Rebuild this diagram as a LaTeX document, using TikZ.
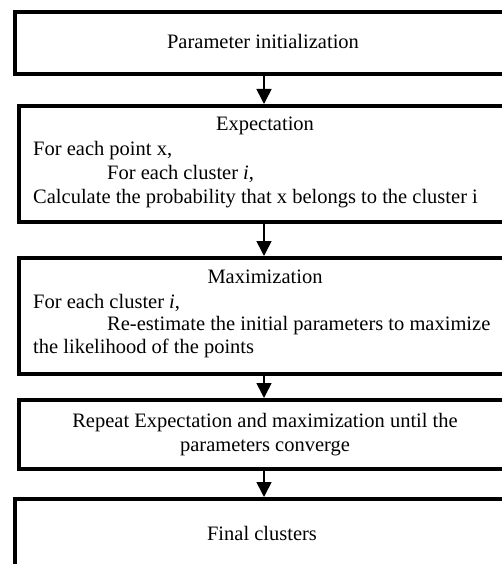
\documentclass[tikz,border=0pt]{standalone}
\usepackage{fontspec}
\setmainfont{Liberation Serif}
\usetikzlibrary{arrows.meta}
\begin{document}
\begin{tikzpicture}[x=1pt,y=-1pt,
  box/.style={draw, line width=4pt, fill=white, anchor=north west, inner sep=0pt},
  txtl/.style={anchor=base west, font=\fontsize{20.5}{24}\selectfont, inner sep=0pt},
  txtc/.style={anchor=base, font=\fontsize{20.5}{24}\selectfont, inner sep=0pt},
  arr/.style={line width=1.6pt, -{Triangle[length=15pt,width=15pt]}}]
\useasboundingbox (0,0) rectangle (502,564);
\clip (0,0) rectangle (502,564);
\fill[white] (0,0) rectangle (502,564);
\node[box, minimum width=507pt, minimum height=62pt] (b1) at (13,10) {};
\node[box, minimum width=505pt, minimum height=116pt] (b2) at (17,104) {};
\node[box, minimum width=505pt, minimum height=116pt] (b3) at (17,256) {};
\node[box, minimum width=505pt, minimum height=69pt] (b4) at (17,398) {};
\node[box, minimum width=507pt, minimum height=90pt] (b5) at (13,497) {};
\coordinate (ax) at (264,0);
\draw[arr] (b1.south -| ax) -- (b2.north -| ax);
\draw[arr] (b2.south -| ax) -- (b3.north -| ax);
\draw[arr] (b3.south -| ax) -- (b4.north -| ax);
\draw[arr] (b4.south -| ax) -- (b5.north -| ax);
\node[txtc] (t1) at (263,49) {Parameter initialization};
\node[txtc] (t2) at (265,131) {Expectation};
\node[txtl] (t3) at (33,156) {For each point x,};
\node[txtl] (t4) at (107,179) {For each cluster \textit{i},};
\node[txtl] (t5) at (33,203) {Calculate the probability that x belongs to the cluster i};
\node[txtc] (t6) at (265,283) {Maximization};
\node[txtl] (t7) at (33,308) {For each cluster \textit{i},};
\node[txtl] (t8) at (107,330) {Re-estimate the initial parameters to maximize};
\node[txtl] (t9) at (33,353) {the likelihood of the points};
\node[txtc] (t10) at (265,427) {Repeat Expectation and maximization until the};
\node[txtc] (t11) at (265,451) {parameters converge};
\node[txtc] (t12) at (262,540) {Final clusters};
\end{tikzpicture}
\end{document}
